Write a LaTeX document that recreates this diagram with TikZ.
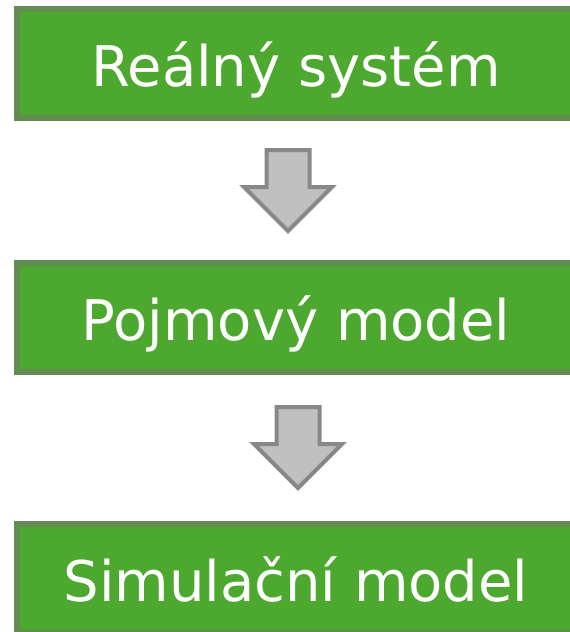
\documentclass[tikz,border=0pt]{standalone}
\usepackage{fontspec}
\setmainfont{DejaVu Sans}
\usepackage{tikz}
\usetikzlibrary{shapes.arrows}

\definecolor{stagefill}{RGB}{76,168,46}
\definecolor{stageline}{RGB}{98,140,82}
\definecolor{flowfill}{RGB}{192,192,192}
\definecolor{flowline}{RGB}{136,136,136}

\begin{document}
\begin{tikzpicture}[x=1pt,y=-1pt]
            \tikzstyle{stage}=[rectangle,draw=stageline,fill=stagefill,line width=6pt,minimum width=558pt,minimum height=109pt,text height=46.8pt,text depth=0pt,text=white,font=\fontsize{56}{62}\selectfont]
            \tikzstyle{flow}=[single arrow,shape border rotate=270,anchor=tail,draw=flowline,fill=flowfill,line width=4pt,minimum height=81pt,minimum width=84pt,inner sep=19.5pt,single arrow head extend=22.5pt,single arrow tip angle=90,single arrow head indent=0pt]

            \clip (0,0) rectangle (570,632);

            \foreach \name/\y/\txt in {real/63.5/Reálný systém, pojm/317.5/Pojmový model, sim/578.5/Simulační model}
              \node[stage] (\name) at (296,\y) {\txt};

            \foreach \name/\x/\y in {a1/288/148, a2/298/405}
              \node[flow] (\name) at (\x,\y) {};
        \end{tikzpicture}
\end{document}
